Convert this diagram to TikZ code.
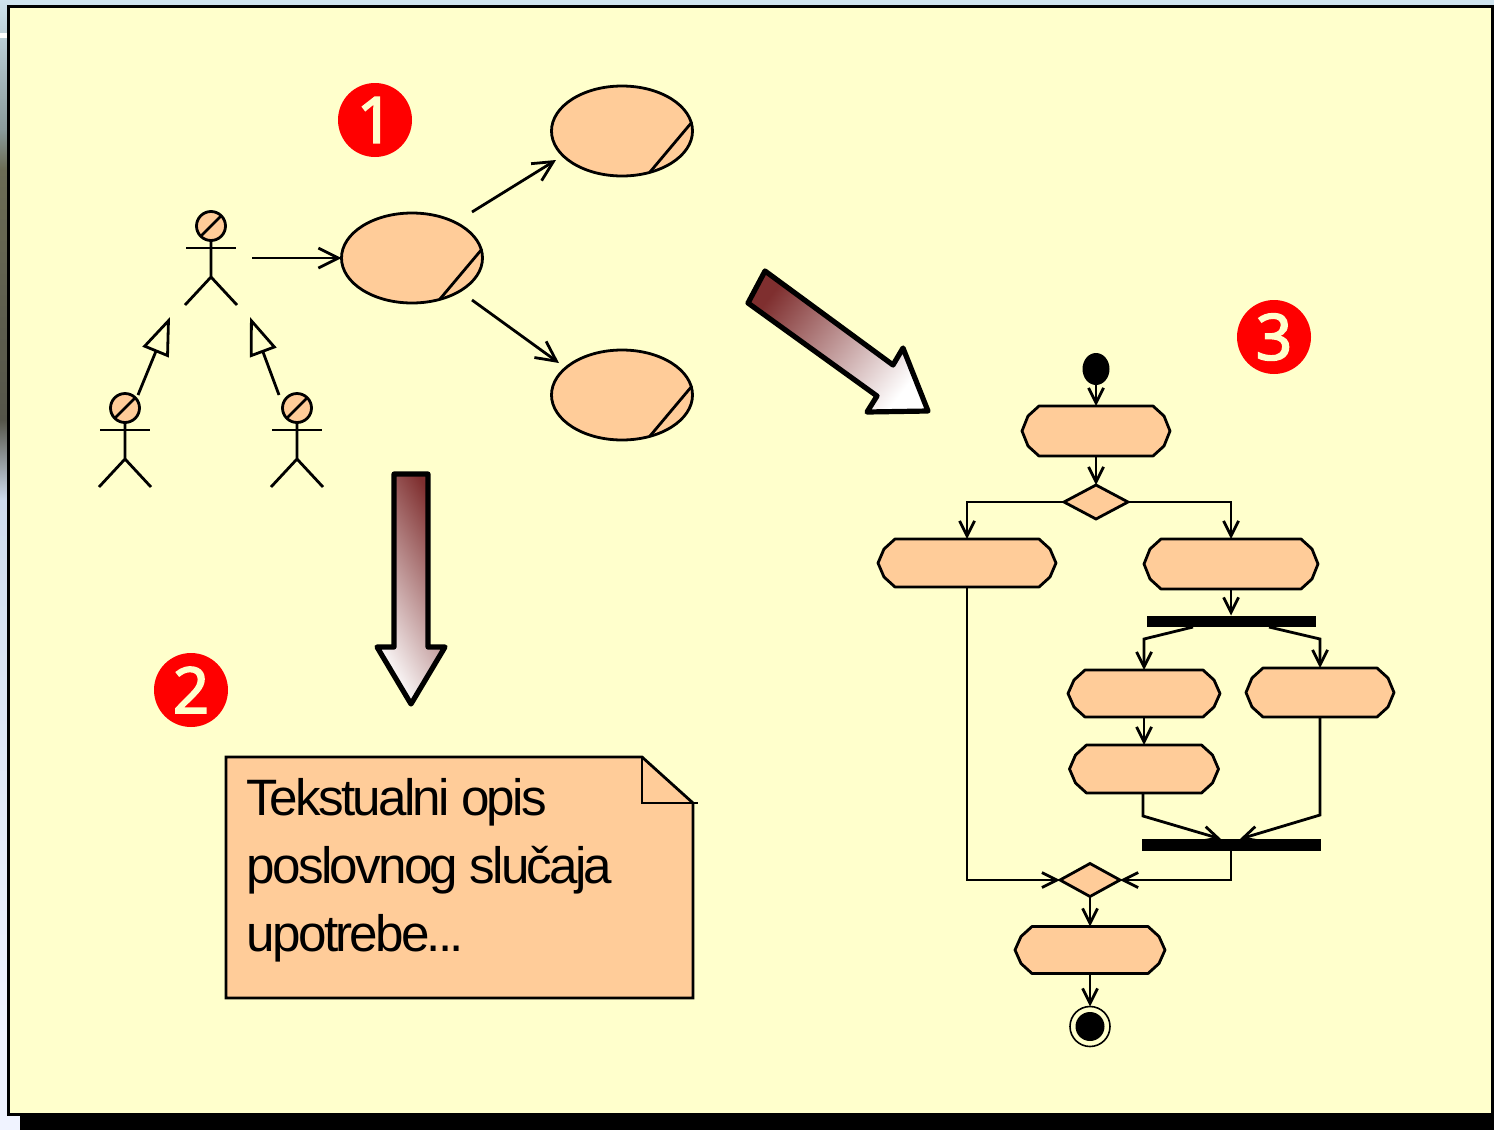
\documentclass[tikz,border=0pt]{standalone}
\usepackage{fontspec}
\usepackage{xcolor}
\usepackage{tikz}
\usetikzlibrary{positioning}
\usetikzlibrary{shapes.geometric}
\usetikzlibrary{arrows.meta}
\newfontfamily\notefont[LetterSpace=-5.4]{Liberation Sans}
\newfontfamily\badgefont[FakeBold=2.2]{Noto Sans}
\definecolor{paleyellow}{HTML}{FFFFCC}
\definecolor{peach}{HTML}{FFCC99}
\definecolor{badgered}{HTML}{FF0000}
\definecolor{wine}{HTML}{7F2F2F}
\definecolor{slidesky}{HTML}{CFE3EE}
\definecolor{slidegrey}{HTML}{8A9A9A}
\definecolor{slideolive}{HTML}{6C6C55}
\definecolor{slidedark}{HTML}{55554A}
\definecolor{slidepale}{HTML}{CFDCEE}
\definecolor{slidewhite}{HTML}{F0F3FF}
\tikzset{%
  umlline/.style={draw=black,line width=1.4pt},
  ucnode/.style={ellipse,umlline,fill=peach,minimum width=70.5pt,minimum height=45pt,inner sep=0pt,outer sep=0pt},
  headnode/.style={circle,umlline,fill=peach,minimum size=14.5pt,inner sep=0pt,outer sep=0pt},
  actnode/.style={rectangle,inner sep=0pt,outer sep=0pt},
  dianode/.style={diamond,umlline,fill=peach,inner sep=0pt,outer sep=0pt},
  barnode/.style={rectangle,fill=black,inner sep=0pt,outer sep=0pt},
  badge/.style={circle,fill=badgered,text=paleyellow,minimum size=37pt,inner sep=0pt,font=\badgefont\fontsize{32}{32}\selectfont},
  flow/.style={umlline,-{Straight Barb[length=7.5pt,width=7.5pt]}},
  assoc/.style={umlline,-{Straight Barb[length=10pt,width=10pt]}},
  gener/.style={umlline,-{Triangle[open,length=19pt,width=14pt]}},
  bigarrow/.style={draw=black,line width=2.6pt,line join=round}
}
\newcommand\ucase[2]{
    \node[ucnode](#1) at (#2){};
    \draw[umlline] ([shift={(28,41)}]#1.center) -- ([shift={(70,-9)}]#1.center);
}
\newcommand\actor[2]{
    \node[headnode](#1) at (#2){};
    \draw[umlline] (#1.south west) -- (#1.north east);
    \draw[umlline] ([yshift=-11pt]#1.center) ++(-25,0) -- ++(50,0);
    \draw[umlline] (#1.south) -- ++(0,36.5) -- ++(-26,28);
    \draw[umlline] (#1.south) ++(0,36.5) -- ++(26,28);
}
\newcommand\actbox[1]{
    \draw[umlline,fill=peach,line join=round]
        ([xshift=8.5pt]#1.north west) -- ([xshift=-8.5pt]#1.north east)
        -- ([xshift=-3pt,yshift=-5pt]#1.north east) -- (#1.east) -- ([xshift=-3pt,yshift=5pt]#1.south east)
        -- ([xshift=-8.5pt]#1.south east) -- ([xshift=8.5pt]#1.south west)
        -- ([xshift=3pt,yshift=5pt]#1.south west) -- (#1.west) -- ([xshift=3pt,yshift=-5pt]#1.north west) -- cycle;
}
\begin{document}
\begin{tikzpicture}[x=0.5pt,y=-0.5pt,node distance=1mm]
    \useasboundingbox (0,0) rectangle (1494,1130);
    % slide behind the frame
    \fill[slidesky] (0,0) rectangle (1494,8);
    \shade[top color=slidesky,bottom color=slidegrey] (0,0) rectangle (8,130);
    \fill[white] (0,33) rectangle (8,38);
    \shade[top color=slidegrey,bottom color=slideolive] (0,130) rectangle (8,170);
    \shade[top color=slideolive,bottom color=slidedark] (0,170) rectangle (8,420);
    \shade[top color=slidedark,bottom color=slidepale] (0,420) rectangle (8,500);
    \shade[top color=slidepale,bottom color=slidewhite] (0,500) rectangle (8,1040);
    \fill[slidewhite] (0,1040) rectangle (20,1130);
    \fill[black] (20,1112) rectangle (1494,1130);
    \draw[fill=paleyellow,line width=1.3pt] (8.5,6.5) rectangle (1492.5,1114.5);

    \node[badge](badgea) at (375,120){1};
    \node[badge](badgeb) at (191,690){2};
    \node[badge](badgec) at (1274,337){3};

    % use cases
    \actor{actortop}{211,226}
    \actor{actorleft}{125,408}
    \actor{actorright}{297,408}
    \ucase{ucmain}{412,258}
    \ucase{ucupper}{622,131}
    \ucase{uclower}{622,395}
    \coordinate (actortopout) at (252,258);
    \coordinate (ucmainup) at (472,212);
    \coordinate (ucupperin) at (556,160);
    \coordinate (ucmaindown) at (472,300);
    \coordinate (uclowerin) at (559,363);
    \coordinate (genlefta) at (138,395);
    \coordinate (genleftb) at (170,317);
    \coordinate (genrighta) at (279,395);
    \coordinate (genrightb) at (250,317);
    \draw[assoc] (actortopout) -- (ucmain.west);
    \draw[assoc] (ucmainup) -- (ucupperin);
    \draw[assoc] (ucmaindown) -- (uclowerin);
    \draw[gener] (genlefta) -- (genleftb);
    \draw[gener] (genrighta) -- (genrightb);

    % big arrows
    \draw[bigarrow,top color=wine,middle color=wine!40!white,bottom color=white,shading angle=52]
        (765,271) -- (748,303) -- (877,396) -- (867,412) -- (928,411) -- (903,348) -- (893,365) -- cycle;
    \draw[bigarrow,top color=wine,middle color=wine!35!white,bottom color=white,shading angle=-60]
        (394,474) -- (428,474) -- (428,647) -- (445,647) -- (411,704) -- (377,647) -- (394,647) -- cycle;

    % text note
    \draw[umlline,fill=peach] (226,757) -- (642,757) -- (693,803) -- (693,998) -- (226,998) -- cycle;
    \draw[umlline] (642,757) -- (642,803) -- (698,803);
    \node[anchor=north west,inner sep=0pt,align=left,font=\notefont\fontsize{25.6}{34}\selectfont](notetext) at (246.5,778){Tekstualni opis\\poslovnog slučaja\\upotrebe...};

    % activity
    \node[ellipse,fill=black,minimum width=13.5pt,minimum height=16pt,inner sep=0pt,outer sep=0pt](startnode) at (1096,369){};
    \node[actnode,minimum width=74pt,minimum height=25pt,below=10.5pt of startnode](actfirst){};
    \node[dianode,minimum width=32pt,minimum height=17pt,below=14.5pt of actfirst](diatop){};
    \node[actnode,minimum width=89pt,minimum height=24pt](actleft) at (967,563){};
    \node[actnode,minimum width=87pt,minimum height=25pt](actright) at (1231,564){};
    \node[barnode,minimum width=84.5pt,minimum height=5.5pt](forkbar) at (1231,621){};
    \node[actnode,minimum width=76pt,minimum height=23.5pt](actforka) at (1144,693.5){};
    \node[actnode,minimum width=74pt,minimum height=24.5pt](actforkb) at (1320,692.5){};
    \node[actnode,minimum width=74.5pt,minimum height=24pt,below=14pt of actforka](actforkc){};
    \node[barnode,minimum width=89.5pt,minimum height=6pt](joinbar) at (1231,845){};
    \node[dianode,minimum width=30pt,minimum height=16.5pt](diabot) at (1090,880){};
    \node[actnode,minimum width=75pt,minimum height=23.5pt,below=15pt of diabot](actlast){};
    \node[circle,umlline,line width=0.8pt,fill=paleyellow,minimum width=20pt,inner sep=0pt,outer sep=0pt,below=16.5pt of actlast](endnode){};
    \node[circle,fill=black,minimum size=14.5pt,inner sep=0pt](enddot) at (endnode.center){};
    \foreach \boxname in {actfirst,actleft,actright,actforka,actforkb,actforkc,actlast}{
        \actbox{\boxname}
    }

    \coordinate (forkoutl) at (1193,627);
    \coordinate (forkbendl) at (1144,639);
    \coordinate (forkoutr) at (1269,627);
    \coordinate (forkbendr) at (1320,639);
    \coordinate (joinbendl) at (1143,816);
    \coordinate (joininl) at (1221,839);
    \coordinate (joinbendr) at (1320,815);
    \coordinate (joininr) at (1240,839);

    \draw[flow] (startnode) -- (actfirst);
    \draw[flow] (actfirst) -- (diatop);
    \draw[flow] (diatop.west) -| (actleft.north);
    \draw[flow] (diatop.east) -| (actright.north);
    \draw[flow] (actright) -- (forkbar);
    \draw[flow] (forkoutl) -- (forkbendl) -- (actforka.north);
    \draw[flow] (forkoutr) -- (forkbendr) -- (actforkb.north);
    \draw[flow] (actforka) -- (actforkc);
    \draw[flow] (actforkc.south -| joinbendl) -- (joinbendl) -- (joininl);
    \draw[flow] (actforkb.south) -- (joinbendr) -- (joininr);
    \draw[flow] (joinbar.south) |- (diabot.east);
    \draw[flow] (actleft.south) |- (diabot.west);
    \draw[flow] (diabot) -- (actlast);
    \draw[flow] (actlast) -- (endnode);
\end{tikzpicture}
\end{document}
